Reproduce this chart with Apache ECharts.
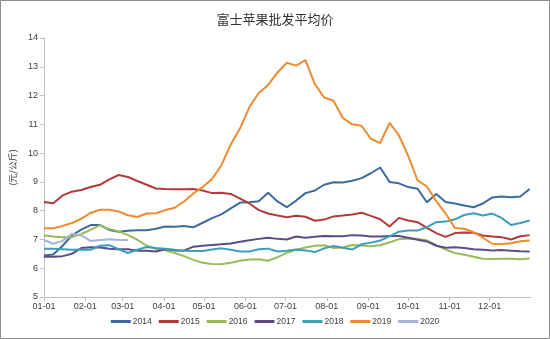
<!DOCTYPE html>
<html>
<head>
<meta charset="utf-8">
<script src="https://cdn.jsdelivr.net/npm/echarts@6/dist/echarts.min.js"></script>
<style>
html,body{margin:0;padding:0;background:#fff;}
#c{width:550px;height:339px;}
</style>
</head>
<body>
<div id="c"></div>
<script>
// sample days (day of year, weekly)
const days = [0,7,14,21,28,35,42,49,56,63,70,77,84,91,98,105,112,119,126,133,140,147,154,161,168,175,182,189,196,203,210,217,224,231,238,245,252,259,266,273,280,287,294,301,308,315,322,329,336,343,350,357,364];
const monthStarts = [0,31,59,90,120,151,181,212,243,273,304,334];
const monthLabels = ['01-01','02-01','03-01','04-01','05-01','06-01','07-01','08-01','09-01','10-01','11-01','12-01'];
const seriesNames = ['2014','2015','2016','2017','2018','2019','2020'];

const v2014 = [6.44,6.48,6.78,7.14,7.34,7.50,7.50,7.33,7.27,7.30,7.32,7.32,7.37,7.45,7.44,7.47,7.42,7.58,7.74,7.87,8.08,8.28,8.29,8.33,8.62,8.32,8.12,8.35,8.61,8.70,8.90,8.99,8.98,9.04,9.13,9.30,9.50,9.00,8.95,8.82,8.76,8.29,8.58,8.30,8.25,8.18,8.12,8.25,8.46,8.49,8.47,8.49,8.75];
const v2015 = [8.30,8.26,8.53,8.66,8.72,8.82,8.90,9.09,9.24,9.17,9.03,8.90,8.77,8.75,8.74,8.74,8.75,8.70,8.61,8.62,8.58,8.42,8.25,8.02,7.90,7.83,7.77,7.82,7.79,7.65,7.69,7.80,7.83,7.87,7.93,7.82,7.70,7.45,7.75,7.66,7.60,7.40,7.22,7.09,7.22,7.24,7.23,7.14,7.10,7.08,7.00,7.11,7.15];
const v2016 = [7.14,7.10,7.08,7.08,7.19,7.33,7.50,7.36,7.28,7.15,6.99,6.78,6.67,6.62,6.53,6.42,6.29,6.19,6.15,6.14,6.19,6.26,6.30,6.31,6.26,6.38,6.54,6.64,6.72,6.78,6.80,6.70,6.72,6.81,6.79,6.76,6.80,6.90,7.01,7.03,7.02,6.97,6.80,6.65,6.53,6.47,6.40,6.33,6.32,6.33,6.33,6.31,6.34];
const v2017 = [6.40,6.40,6.42,6.50,6.70,6.73,6.72,6.68,6.66,6.66,6.61,6.61,6.58,6.66,6.62,6.61,6.75,6.78,6.81,6.83,6.86,6.92,6.97,7.02,7.06,7.02,7.00,7.10,7.06,7.09,7.12,7.11,7.11,7.15,7.14,7.10,7.10,7.12,7.12,7.06,6.99,6.93,6.78,6.71,6.73,6.70,6.66,6.64,6.62,6.63,6.61,6.59,6.58];
const v2018 = [6.68,6.68,6.66,6.64,6.65,6.64,6.78,6.80,6.66,6.53,6.64,6.74,6.70,6.68,6.64,6.61,6.60,6.60,6.65,6.69,6.64,6.58,6.58,6.66,6.68,6.58,6.61,6.65,6.62,6.56,6.69,6.77,6.71,6.65,6.83,6.89,6.96,7.11,7.27,7.31,7.31,7.43,7.60,7.62,7.70,7.85,7.91,7.83,7.90,7.75,7.50,7.57,7.66];
const v2019 = [7.39,7.39,7.47,7.57,7.72,7.92,8.03,8.03,7.97,7.84,7.78,7.90,7.91,8.02,8.10,8.32,8.60,8.82,9.10,9.58,10.30,10.86,11.60,12.09,12.37,12.80,13.14,13.04,13.23,12.40,11.93,11.82,11.22,11.00,10.95,10.50,10.35,11.05,10.62,9.90,9.05,8.84,8.33,7.90,7.40,7.37,7.25,7.06,6.85,6.84,6.87,6.94,6.96];
const v2020 = [6.98,6.85,6.95,7.20,7.14,6.95,6.98,7.01,6.98,6.98];

const valueSets = [v2014,v2015,v2016,v2017,v2018,v2019,v2020];
const colors = ['#3E6B9E','#B33A3A','#9BBB59','#5E4A88','#3AA0B8','#EE8B30','#A7B4D9'];

const chart = echarts.init(document.getElementById('c'));
chart.setOption({
  animation:false,
  color: colors,
  title:{
    text:'富士苹果批发平均价', left:'center', top:8,
    textStyle:{fontFamily:'Noto Sans CJK SC', fontSize:13, fontWeight:'normal', color:'#333'}
  },
  graphic:[{type:'rect', shape:{x:0.5,y:0.5,width:549,height:338}, style:{fill:'none', stroke:'#8c8c8c', lineWidth:1}, silent:true}],
  legend:{
    data: seriesNames, bottom:8, left:'center', icon:'rect', itemWidth:20, itemHeight:3, itemGap:7,
    textStyle:{fontSize:8.5, color:'#404040', fontFamily:'Liberation Sans', padding:[0,0,0,-3]}
  },
  grid:{left:43, right:19, top:38, bottom:42},
  xAxis:{
    type:'value', min:0, max:365,
    splitLine:{show:false},
    axisLine:{lineStyle:{color:'#bfbfbf'}},
    axisTick:{show:true, customValues: monthStarts, lineStyle:{color:'#bfbfbf'}, length:4},
    axisLabel:{customValues: monthStarts, color:'#404040', fontSize:9, fontFamily:'Liberation Sans', margin:5,
      formatter:(val)=>{const i=monthStarts.indexOf(val); return i>=0?monthLabels[i]:'';}}
  },
  yAxis:{
    type:'value', min:5, max:14, interval:1,
    name:'(元/公斤)', nameLocation:'middle', nameRotate:90, nameGap:21,
    nameTextStyle:{fontSize:9, color:'#404040', fontFamily:'Noto Sans CJK SC'},
    splitLine:{show:false},
    axisLine:{show:true, lineStyle:{color:'#bfbfbf'}},
    axisTick:{show:true, length:4, lineStyle:{color:'#bfbfbf'}},
    axisLabel:{color:'#404040', fontSize:9, fontFamily:'Liberation Sans', margin:6}
  },
  series: seriesNames.map((n,si)=>({
    name:n, type:'line', showSymbol:false, symbol:'none',
    lineStyle:{width:2},
    data: valueSets[si].map((v,i)=>[days[i], v])
  }))
});
</script>
</body>
</html>
